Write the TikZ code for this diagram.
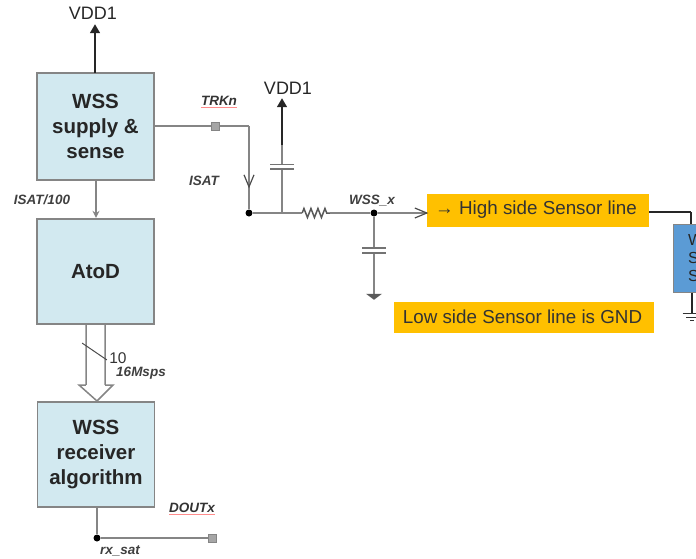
\documentclass[tikz,border=0pt]{standalone}
\usepackage{fontspec}
\setmainfont{Liberation Sans}
\usepackage{tikz}
\usetikzlibrary{calc,positioning,arrows.meta}
\usetikzlibrary{decorations.pathmorphing}
\usetikzlibrary{decorations.markings}
\definecolor{wireg}{HTML}{858585}
\definecolor{blockf}{HTML}{D2E9F0}
\definecolor{hiliteo}{HTML}{FFC000}
\definecolor{sensorb}{HTML}{5B9BD5}
\newcommand{\spellmark}[1]{\textcolor{red!45}{\underline{\textcolor{black!80}{#1}}}}
\tikzset{
  % line styles
  wire/.style={draw=wireg,line width=1.5pt},
  supply/.style={draw=black!85,line width=1.5pt,-{Triangle[length=9pt,width=10pt]}},
  capac/.style={postaction={decorate,decoration={markings,mark=at position #1 with {\fill[white]
(-1.5pt,-4pt) rectangle (1.5pt,4pt);\draw[black!55,line width=1.7pt]
(-2.3pt,-12pt) -- (-2.3pt,12pt) (2.3pt,-12pt) -- (2.3pt,12pt);}}}},
  openarrow/.style={postaction={decorate,decoration={markings,mark=at position #1 with {\draw[black!70,line width=1.2pt]
(-12pt,-5pt) -- (0pt,0pt) -- (-12pt,5pt);}}}},
  resistor/.style={decorate,decoration={zigzag,amplitude=4.5pt,segment length=7pt}},
  gndtri/.style={postaction={decorate,decoration={markings,mark=at position 1 with {\fill[black!65]
(0pt,-8pt) -- (6pt,0pt) -- (0pt,8pt) -- cycle;}}}},
  gndbars/.style={postaction={decorate,decoration={markings,mark=at position 1 with {\draw[black!80,line width=.8pt]
(0pt,-9.5pt) -- (0pt,9.5pt) (3.5pt,-6pt) -- (3.5pt,6pt) (7pt,-2pt) -- (7pt,2pt);}}}},
  % node styles (blocks, labels, line ends)
  block/.style={rectangle,draw=wireg,line width=1.5pt,fill=blockf,inner sep=0pt,align=center,
    text=black!85,font=\fontsize{20.5}{25}\selectfont\bfseries},
  hilite/.style={rectangle,fill=hiliteo,inner sep=0pt,text=black!80,font=\fontsize{18.8}{22}\selectfont},
  netlabel/.style={inner sep=0pt,text=black!75,font=\fontsize{13.5}{16}\selectfont\bfseries\itshape},
  plainlabel/.style={inner sep=0pt,text=black!85,font=\fontsize{18}{22}\selectfont},
  vertex/.style={circle,fill=black,inner sep=0pt,minimum size=7pt},
  pad/.style={rectangle,draw=wireg,fill=black!35,inner sep=0pt,minimum size=8pt},
  void/.style={inner sep=0pt,minimum size=0pt},
}
\begin{document}
\begin{tikzpicture}[x=1pt,y=-1pt]
  \useasboundingbox (0,0) rectangle (696,558);
  % blocks
  \node[block,minimum width=117pt,minimum height=107pt] (supplyblk) at (95.5,126.5) {WSS\\supply \&\\sense};
  \node[block,minimum width=117pt,minimum height=105pt] (atod) at (95.5,271.5) {AtoD};
  \node[block,minimum width=117pt,minimum height=105pt] (rxalg) at (96,454.5) {WSS\\receiver\\algorithm};
  \node[rectangle,draw=wireg,line width=1pt,fill=sensorb,minimum width=60pt,minimum height=68pt,inner sep=0pt,
    align=left,text width=30pt,text=black!85,font=\fontsize{16}{18}\selectfont] (sensor) at (703,258) {W\\S\\S};
  \node[hilite,minimum width=222pt,minimum height=33pt] (highside) at (538,210) {};
  \node[hilite] at (536,210) {→ High side Sensor line};
  \node[hilite,minimum width=260pt,minimum height=31pt] (lowside) at (523.5,317) {\hspace*{-2pt}Low side Sensor line is GND};
  % supply rails
  \node[plainlabel] (vddtop) at (93,13) {VDD1};
  \node[void] (vddtoptip) at (95,24) {};
  \node[void] (supplytop) at (95,73) {};
  \draw[supply] (supplytop) -- (vddtoptip);
  \node[plainlabel] (vddmid) at (288,88) {VDD1};
  \node[void] (vddmidtip) at (282,98) {};
  \node[void] (vddmidcut) at (282,145) {};
  \node[void] (branch) at (282,213) {};
  \draw[supply] (vddmidcut) -- (vddmidtip);
  \draw[wire,capac=.68] (branch) -- (vddmidcut);
  % tracking line
  \node[void] (supplyout) at (154,126) {};
  \node[pad] (trkpad) at (215,126) {};
  \node[void] (trkbend) at (249,126) {};
  \node[vertex] (isatdot) at (249,213) {};
  \node[void] (isathead) at (249,187) {};
  \draw[wire] (supplyout) -- (trkpad) -- (trkbend) -- (isatdot);
  \draw[wire,openarrow=1] (trkbend) -- (isathead);
  \node[netlabel] (trklabel) at (219,102) {\spellmark{TRKn}};
  \node[netlabel] (isatlabel) at (204,181) {ISAT};
  % sensor line
  \node[void] (resin) at (302,213) {};
  \node[void] (resout) at (330,213) {};
  \node[vertex] (wssdot) at (374,213) {};
  \node[void] (wssend) at (427,213) {};
  \node[void] (capgnd) at (374,294) {};
  \draw[wire] (isatdot) -- (resin);
  \draw[wire,draw=black!65,resistor] (resin) -- (resout);
  \draw[wire] (resout) -- (wssdot);
  \draw[wire,openarrow=1] (wssdot) -- (wssend);
  \draw[wire,capac=.44,gndtri] (wssdot) -- (capgnd);
  \node[netlabel] (wsslabel) at (372,201) {WSS\_x};
  % to the sensor
  \node[void] (sensorbend) at (691,212) {};
  \draw[black!85,line width=1.2pt] (highside.east |- sensorbend) -- (sensorbend) -- (sensorbend |- sensor.north);
  \node[void] (sensorgnd) at (692,314) {};
  \draw[black!85,line width=1.2pt,gndbars] (sensorgnd |- sensor.south) -- (sensorgnd);
  % converter and bus
  \node[void] (downin) at (96,180) {};
  \node[void] (downout) at (96,218) {};
  \draw[wire,-{Stealth[length=7pt,width=7pt]}] (downin) -- (downout);
  \node[netlabel] (isat100) at (42,200) {ISAT/100};
  \node[void] (busl) at (86,324) {};
  \node[void] (busr) at (105,324) {};
  \node[void] (busheadl) at (86,385) {};
  \node[void] (busheadr) at (105,385) {};
  \node[void] (bustip) at (97,401) {};
  \draw[wire,fill=white] (busl) -- (busheadl) -- (79,385) -- (bustip) -- (113,385) -- (busheadr) -- (busr);
  \node[void] (slashl) at (82,343) {};
  \node[void] (slashr) at (107,360) {};
  \draw[black!70,line width=1pt] (slashl) -- (slashr);
  \node[inner sep=0pt,text=black!80,font=\fontsize{15.5}{18}\selectfont] (buswidth) at (118,358) {10};
  \node[netlabel] (busrate) at (141,373) {16Msps};
  % output
  \node[void] (rxout) at (97,507) {};
  \node[vertex] (rxdot) at (97,538) {};
  \node[pad] (rxpad) at (212,538) {};
  \draw[wire] (rxout) -- (rxdot) -- (rxpad);
  \node[netlabel] (doutlabel) at (192,509) {\spellmark{DOUTx}};
  \node[netlabel] (rxlabel) at (120,551) {rx\_sat};
\end{tikzpicture}
\end{document}
